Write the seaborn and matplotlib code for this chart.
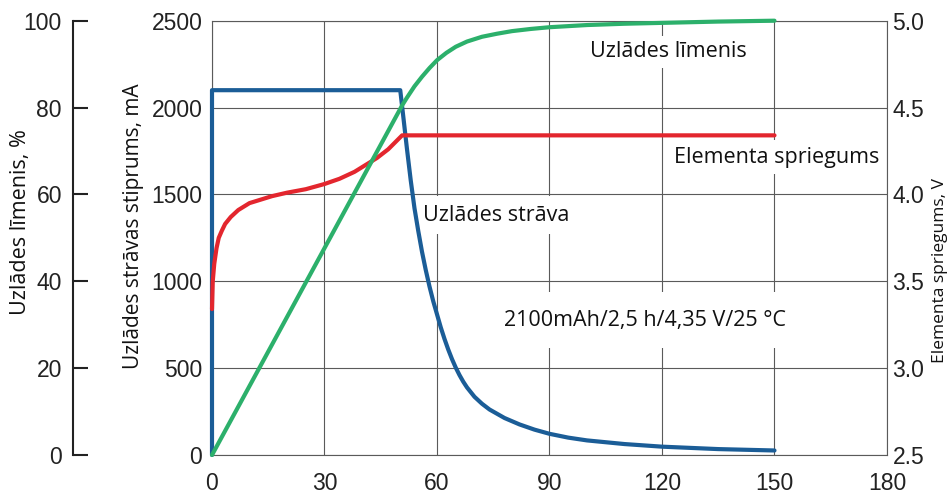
import matplotlib
matplotlib.use("Agg")
import matplotlib.pyplot as plt
import seaborn as sns

# ---- data ----
time_current = [0, 0, 50.2, 51, 52, 53, 54, 55, 56, 57, 58, 59, 60, 61, 62, 63, 64, 65, 66, 67, 68, 70,
                72, 74, 78, 82, 86, 90, 95, 100, 110, 120, 135, 150]
current_mA = [0, 2100, 2100, 1950, 1760, 1580, 1420, 1290, 1170, 1065, 970, 885, 810, 735, 668, 607,
              552, 503, 460, 422, 389, 335, 295, 262, 213, 176, 146, 122, 100, 84, 63, 48, 34, 26]

time_voltage = [0, 0.2, 0.6, 1.2, 1.8, 2.6, 3.5, 5, 7, 10, 13, 16, 20, 25, 30, 34, 38, 41, 44, 47,
                50.7, 150]
voltage_V = [3.34, 3.50, 3.60, 3.69, 3.75, 3.79, 3.83, 3.87, 3.91, 3.95, 3.97, 3.99, 4.01, 4.03, 4.06,
             4.09, 4.13, 4.17, 4.21, 4.26, 4.34, 4.34]

time_charge = [0, 50.7, 52, 54, 56, 58, 60, 62.5, 65, 68, 72, 76, 80, 85, 90, 100, 110, 120, 135, 150]
charge_pct = [0, 80.5, 82.3, 84.9, 87.1, 89.1, 90.9, 92.6, 94.0, 95.2, 96.3, 97.0, 97.6, 98.1, 98.5,
              99.0, 99.3, 99.5, 99.8, 100]

x_ticks = [0, 30, 60, 90, 120, 150, 180]
current_ticks = [0, 500, 1000, 1500, 2000, 2500]
voltage_ticks = [2.5, 3.0, 3.5, 4.0, 4.5, 5.0]
voltage_ticklabels = ["2.5", "3.0", "3.5", "4.0", "4.5", "5.0"]
charge_ticks = [0, 20, 40, 60, 80, 100]

label_charge = "Uzlādes līmenis, %"
label_current = "Uzlādes strāvas stiprums, mA"
label_voltage = "Elementa spriegums, V"

annotations = [
    ("Uzlādes līmenis", 121.7, 2321, 0.25),
    ("Elementa spriegums", 150.7, 1715, 0.3),
    ("Uzlādes strāva", 75.9, 1381, 0.4),
    ("2100mAh/2,5 h/4,35 V/25 °C", 115.5, 777, 0.8),
]

C_BLUE = "#1b5d97"
C_GREEN = "#2cb06b"
C_RED = "#e3262e"
C_GRID = "#5a5a5a"

sns.set_theme(style="white")
plt.rcParams["font.family"] = ["Liberation Sans", "DejaVu Sans"]
TEXT_FONT = ["Open Sans", "DejaVu Sans"]
TICK_SIZE = 16.5

fig = plt.figure(figsize=(9.53, 4.95), dpi=100)
ax = fig.add_axes([212 / 953, 1 - 455 / 495, 675 / 953, 434.3 / 495])

# main axis: current
ax.set_xlim(0, 180)
ax.set_ylim(0, 2500)
ax.set_xticks(x_ticks)
ax.set_yticks(current_ticks)
ax.grid(True, color=C_GRID, linewidth=0.8, zorder=0)
ax.set_axisbelow(True)
for s in ax.spines.values():
    s.set_color(C_GRID)
    s.set_linewidth(0.8)
ax.tick_params(axis="x", length=0, pad=12, labelsize=TICK_SIZE, colors="#222222")
ax.tick_params(axis="y", length=0, pad=7, labelsize=TICK_SIZE, colors="#222222")

for txt, x, y, pad in annotations:
    ax.text(x, y, txt, ha="center", va="center", fontsize=15.5, family=TEXT_FONT, color="#111111",
            bbox=dict(boxstyle=f"square,pad={pad}", fc="white", ec="none"), zorder=3)

sns.lineplot(x=time_current, y=current_mA, ax=ax, color=C_BLUE, linewidth=3.0,
             estimator=None, sort=False, zorder=5)
ax.set_ylabel(label_current, fontsize=15, family=TEXT_FONT, color="#111111")
ax.yaxis.set_label_coords(-0.117, 0.527)
ax.yaxis.label.set_verticalalignment("center")
ax.set_xlabel("")

# voltage axis (right)
axv = ax.twinx()
axv.set_ylim(2.5, 5.0)
axv.set_yticks(voltage_ticks)
axv.set_yticklabels(voltage_ticklabels)
for s in axv.spines.values():
    s.set_visible(False)
axv.tick_params(axis="y", length=0, pad=4, labelsize=TICK_SIZE, colors="#222222")
sns.lineplot(x=time_voltage, y=voltage_V, ax=axv, color=C_RED, linewidth=3.0,
             estimator=None, sort=False)
axv.set_ylabel(label_voltage, fontsize=12.5, family=TEXT_FONT, color="#111111")
axv.yaxis.set_label_coords(1.0785, 0.424)
axv.yaxis.label.set_verticalalignment("center")
axv.grid(False)

# charge axis (outer left)
axp = ax.twinx()
axp.set_ylim(0, 100)
axp.set_yticks(charge_ticks)
for k in ["top", "right", "bottom"]:
    axp.spines[k].set_visible(False)
axp.spines["left"].set_visible(True)
axp.spines["left"].set_position(("outward", 100))
axp.spines["left"].set_color("#222222")
axp.spines["left"].set_linewidth(1.5)
axp.yaxis.tick_left()
axp.yaxis.set_label_position("left")
axp.tick_params(axis="y", direction="in", length=11, width=1.5, color="#222222",
                pad=8, labelsize=TICK_SIZE, labelcolor="#222222", left=True, right=False)
sns.lineplot(x=time_charge, y=charge_pct, ax=axp, color=C_GREEN, linewidth=3.0,
             estimator=None, sort=False)
axp.set_ylabel(label_charge, fontsize=15.5, family=TEXT_FONT, color="#111111")
axp.yaxis.set_label_coords(-0.284, 0.536)
axp.yaxis.label.set_verticalalignment("center")
axp.grid(False)
axp.set_xlim(0, 180)
axv.set_xlim(0, 180)

for a in (ax, axv, axp):
    for ln in a.get_lines():
        ln.set_clip_on(False)
        ln.set_solid_joinstyle("round")

fig.savefig("out.png", dpi=100)
